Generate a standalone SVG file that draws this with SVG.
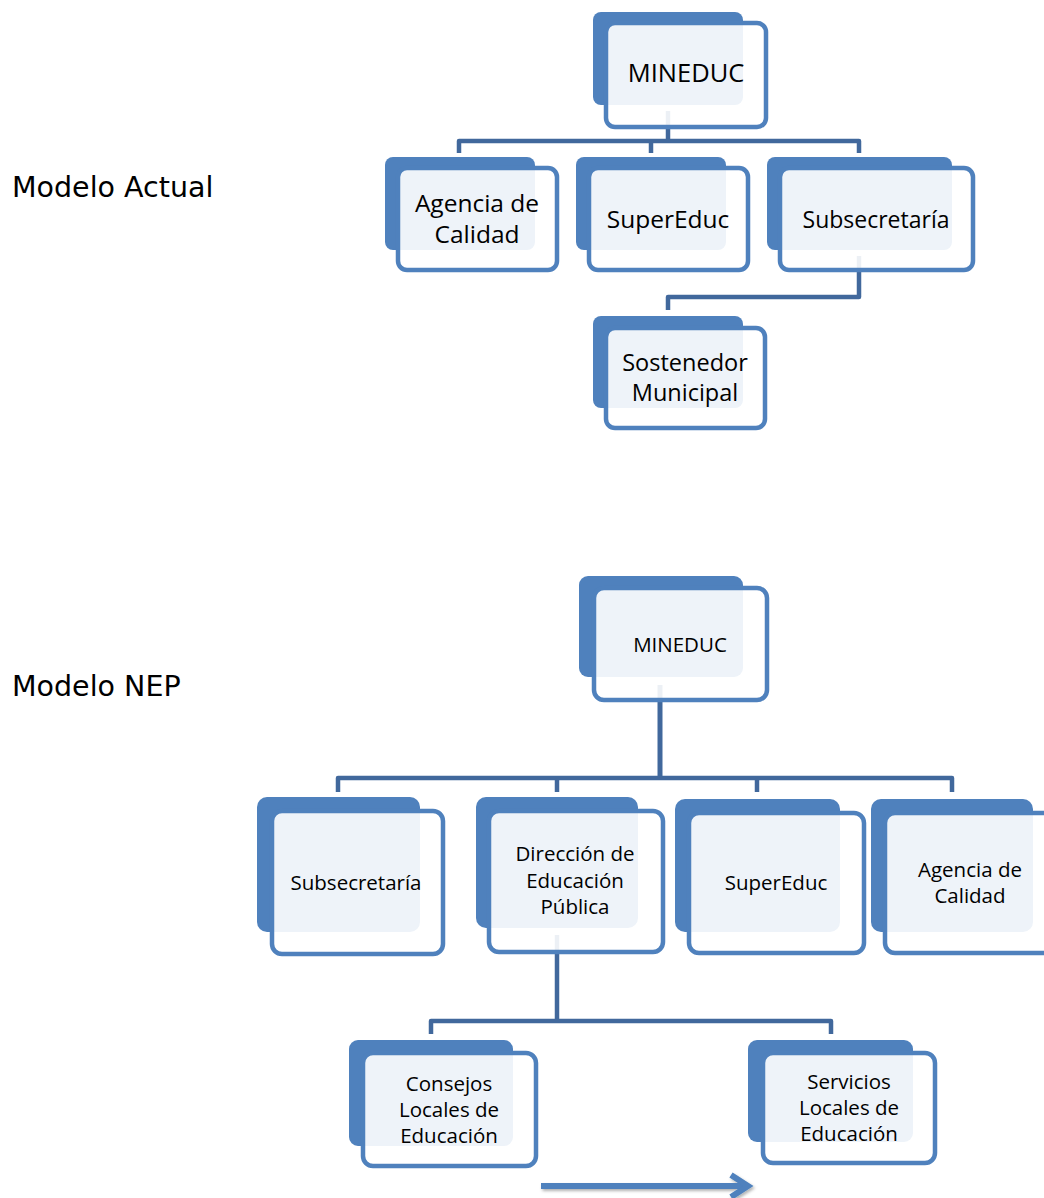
<svg xmlns="http://www.w3.org/2000/svg" width="1044" height="1198" viewBox="0 0 1044 1198">
<style>
.back{fill:#4F81BD}
.front{fill:#FFFFFF;fill-opacity:0.9;stroke:#4F81BD;stroke-width:4.5}
.conn{fill:none;stroke:#41689C;stroke-width:4.5;stroke-linejoin:round}
.lbl{font-family:"DejaVu Sans","Verdana",sans-serif;font-size:28.5px;fill:#000}
.t1{font-family:"Open Sans","Liberation Sans",sans-serif;font-size:24.5px;fill:#000;text-anchor:middle}
.t2{font-family:"Open Sans","Liberation Sans",sans-serif;font-size:20.5px;fill:#000;text-anchor:middle}
.arrow{fill:none;stroke:#4F81BD;stroke-width:6}
</style>
<defs>
<filter id="sh" x="-10%" y="-50%" width="120%" height="200%">
<feDropShadow dx="1.5" dy="2" stdDeviation="1.5" flood-color="#000" flood-opacity="0.3"/>
</filter>
</defs>

<text class="lbl" x="12" y="197">Modelo Actual</text>
<text class="lbl" x="12" y="696">Modelo NEP</text>

<g id="connectors">
<path class="conn" d="M668 111 V141"/>
<path class="conn" d="M459 153 V141 H859 V153"/>
<path class="conn" d="M651 141 V153"/>
<path class="conn" d="M859 256 V297 H668 V310"/>
<path class="conn" d="M660 685 V778" style="stroke-width:5"/>
<path class="conn" d="M338 792 V778 H952 V792"/>
<path class="conn" d="M557 778 V792"/>
<path class="conn" d="M757 778 V792"/>
<path class="conn" d="M557 935 V1021"/>
<path class="conn" d="M431 1034 V1021 H831 V1034"/>
<g filter="url(#sh)">
<path class="arrow" d="M541 1186 H747"/>
<path class="arrow" d="M731 1175 L748 1186 L731 1197"/>
</g>
</g>

<g id="mineduc-actual">
<rect class="back" x="593" y="12" width="150" height="93" rx="8"/>
<rect class="front" x="606" y="23" width="160" height="104" rx="9"/>
<text class="t1" x="686" y="82" style="font-size:25.5px">MINEDUC</text>
</g>
<g id="agencia-actual">
<rect class="back" x="385" y="157" width="150" height="93" rx="8"/>
<rect class="front" x="398" y="168" width="159" height="102" rx="9"/>
<text class="t1" x="477" y="212">Agencia de</text>
<text class="t1" x="477" y="243">Calidad</text>
</g>
<g id="supereduc-actual">
<rect class="back" x="576" y="157" width="150" height="93" rx="8"/>
<rect class="front" x="589" y="168" width="159" height="102" rx="9"/>
<text class="t1" x="668" y="228">SuperEduc</text>
</g>
<g id="subsecretaria-actual">
<rect class="back" x="767" y="157" width="185" height="93" rx="8"/>
<rect class="front" x="780" y="168" width="193" height="102" rx="9"/>
<text class="t1" x="876" y="228" style="font-size:23px">Subsecretaría</text>
</g>
<g id="sostenedor-actual">
<rect class="back" x="593" y="316" width="150" height="92" rx="8"/>
<rect class="front" x="606" y="328" width="159" height="100" rx="9"/>
<text class="t1" x="685" y="371" style="font-size:23.5px">Sostenedor</text>
<text class="t1" x="685" y="401" style="font-size:23.5px">Municipal</text>
</g>

<g id="mineduc-nep">
<rect class="back" x="579" y="576" width="164" height="101" rx="9"/>
<rect class="front" x="594" y="588" width="173" height="112" rx="10"/>
<text class="t2" x="680" y="652">MINEDUC</text>
</g>
<g id="subsecretaria-nep">
<rect class="back" x="257" y="797" width="163" height="135" rx="10"/>
<rect class="front" x="272" y="811" width="171" height="143" rx="10"/>
<text class="t2" x="356" y="890">Subsecretaría</text>
</g>
<g id="direccion-nep">
<rect class="back" x="476" y="797" width="162" height="131" rx="10"/>
<rect class="front" x="489" y="811" width="174" height="141" rx="10"/>
<text class="t2" x="575" y="861">Dirección de</text>
<text class="t2" x="575" y="888">Educación</text>
<text class="t2" x="575" y="914">Pública</text>
</g>
<g id="supereduc-nep">
<rect class="back" x="675" y="799" width="165" height="133" rx="10"/>
<rect class="front" x="689" y="813" width="175" height="140" rx="10"/>
<text class="t2" x="776" y="890">SuperEduc</text>
</g>
<g id="agencia-nep">
<rect class="back" x="871" y="799" width="162" height="133" rx="10"/>
<rect class="front" x="885" y="813" width="175" height="140" rx="10"/>
<text class="t2" x="970" y="877">Agencia de</text>
<text class="t2" x="970" y="903">Calidad</text>
</g>
<g id="consejos-nep">
<rect class="back" x="349" y="1040" width="164" height="106" rx="9"/>
<rect class="front" x="363" y="1053" width="173" height="113" rx="10"/>
<text class="t2" x="449" y="1091">Consejos</text>
<text class="t2" x="449" y="1117">Locales de</text>
<text class="t2" x="449" y="1143">Educación</text>
</g>
<g id="servicios-nep">
<rect class="back" x="748" y="1040" width="165" height="102" rx="9"/>
<rect class="front" x="763" y="1053" width="172" height="110" rx="10"/>
<text class="t2" x="849" y="1089">Servicios</text>
<text class="t2" x="849" y="1115">Locales de</text>
<text class="t2" x="849" y="1141">Educación</text>
</g>
</svg>
